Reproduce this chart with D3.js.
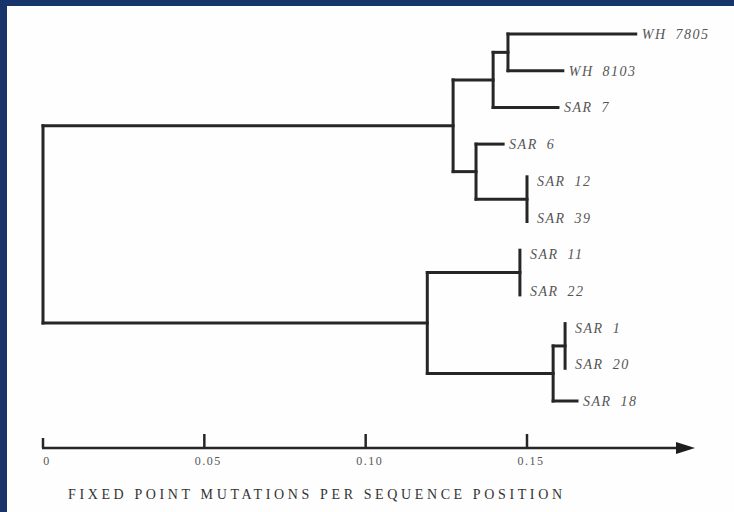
<!DOCTYPE html>
<html lang="en">
<head>
  <meta charset="utf-8">
  <title>Fixed point mutations tree</title>
  <script src="https://cdn.jsdelivr.net/npm/d3@7"></script>
  <style>
    html, body { margin: 0; padding: 0; background: #17356b; }
    svg { display: block; }
    .leaf { font-family: "Liberation Serif", serif; font-style: italic; font-size: 14px; fill: #555; letter-spacing: 1.5px; word-spacing: 4px; }
    .tick-label { font-family: "Liberation Serif", serif; font-size: 12px; fill: #555; letter-spacing: 1.5px; }
    .title { font-family: "Liberation Serif", serif; font-size: 14px; fill: #333; }
  </style>
</head>
<body>
<svg width="734" height="512"></svg>
<script>

// tree: node ids, their parents and distance from the root
const nodeIds   = ['root', 'A', 'B', 'C', 'WH 7805', 'WH 8103', 'SAR 7', 'D', 'SAR 6', 'E', 'SAR 12', 'SAR 39',
                   'F', 'G', 'SAR 11', 'SAR 22', 'H', 'I', 'SAR 1', 'SAR 20', 'SAR 18'];
const parentIds = [null, 'root', 'A', 'B', 'C', 'C', 'B', 'A', 'D', 'D', 'E', 'E',
                   'root', 'F', 'G', 'G', 'F', 'H', 'I', 'I', 'H'];
const distances = [0, 0.1271, 0.1395, 0.1441, 0.1837, 0.1611, 0.1596, 0.1342, 0.1426, 0.150, 0.150, 0.150,
                   0.1191, 0.1478, 0.1478, 0.1478, 0.1581, 0.1618, 0.1618, 0.1618, 0.1655];

const tickValues = [0, 0.05, 0.10, 0.15];
const tickLabels = ['0', '0.05', '0.10', '0.15'];
const axisTitle = 'FIXED POINT MUTATIONS PER SEQUENCE POSITION';

const svg = d3.select('svg');

// white sheet inside the blue frame
svg.append('rect')
  .attr('x', 7).attr('y', 6)
  .attr('width', 727).attr('height', 506)
  .attr('fill', '#fefefe');

const x = d3.scaleLinear().domain([0, 0.15]).range([43, 527]);

const table = nodeIds.map(function(id, i) {
  return {id: id, parent: parentIds[i], dist: distances[i]};
});
const root = d3.stratify()
  .id(function(d) { return d.id; })
  .parentId(function(d) { return d.parent; })(table);

const leaves = root.leaves();
const y = d3.scalePoint()
  .domain(leaves.map(function(d) { return d.id; }))
  .range([34, 401]);

// place nodes: leaves on rows, internal nodes midway between outer children
root.eachAfter(function(n) {
  n.px = x(n.data.dist);
  if (!n.children) {
    n.py = y(n.id);
  } else {
    n.py = (n.children[0].py + n.children[n.children.length - 1].py) / 2;
  }
});

const tree = svg.append('g')
  .attr('fill', 'none')
  .attr('stroke', '#262626')
  .attr('stroke-width', 3)
  .attr('stroke-linecap', 'square');

// vertical bars of each internal node
tree.selectAll('line.v')
  .data(root.descendants().filter(function(n) { return n.children; }))
  .enter().append('line').attr('class', 'v')
  .attr('x1', function(n) { return n.px; })
  .attr('x2', function(n) { return n.px; })
  .attr('y1', function(n) {
    const zero = n.children.every(function(c) { return c.data.dist === n.data.dist; });
    return n.children[0].py - (zero ? 4 : 0);
  })
  .attr('y2', function(n) {
    const zero = n.children.every(function(c) { return c.data.dist === n.data.dist; });
    return n.children[n.children.length - 1].py + (zero ? 4 : 0);
  });

// horizontal branches
tree.selectAll('line.h')
  .data(root.descendants().filter(function(n) { return n.parent && n.data.dist > n.parent.data.dist; }))
  .enter().append('line').attr('class', 'h')
  .attr('x1', function(n) { return n.parent.px; })
  .attr('x2', function(n) { return n.px; })
  .attr('y1', function(n) { return n.py; })
  .attr('y2', function(n) { return n.py; });

// leaf labels
svg.selectAll('text.leaf')
  .data(leaves)
  .enter().append('text').attr('class', 'leaf')
  .attr('x', function(n) { return n.px + (n.data.dist === n.parent.data.dist ? 10 : 6); })
  .attr('y', function(n) { return n.py; })
  .attr('dy', '0.36em')
  .text(function(n) { return n.id; });

// axis
const axisY = 448;
const axisG = svg.append('g');

axisG.append('line')
  .attr('x1', x(0) - 1).attr('x2', 680)
  .attr('y1', axisY).attr('y2', axisY)
  .attr('stroke', '#262626').attr('stroke-width', 2.5);

axisG.append('path')
  .attr('d', 'M676,' + (axisY - 6) + 'L695,' + axisY + 'L676,' + (axisY + 6) + 'Z')
  .attr('fill', '#1e1e1e');

axisG.selectAll('line.tick')
  .data(tickValues)
  .enter().append('line').attr('class', 'tick')
  .attr('x1', function(d) { return x(d); })
  .attr('x2', function(d) { return x(d); })
  .attr('y1', function(d) { return d === 0 ? axisY - 10 : axisY - 14; })
  .attr('y2', axisY)
  .attr('stroke', '#262626').attr('stroke-width', 2.5);

axisG.selectAll('text.tick-label')
  .data(tickValues)
  .enter().append('text').attr('class', 'tick-label')
  .attr('x', function(d) { return x(d) + 4; })
  .attr('y', axisY + 17)
  .attr('text-anchor', 'middle')
  .text(function(d, i) { return tickLabels[i]; });

svg.append('text').attr('class', 'title')
  .attr('x', 68)
  .attr('y', 499)
  .attr('textLength', 494)
  .attr('lengthAdjust', 'spacing')
  .text(axisTitle);

</script>
</body>
</html>
